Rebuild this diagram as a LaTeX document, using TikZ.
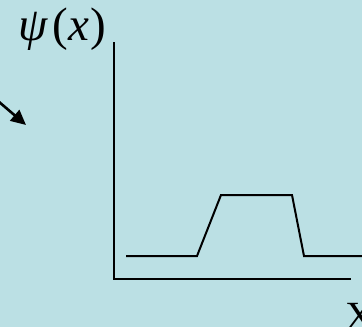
\documentclass[tikz,border=0pt]{standalone}
\usepackage{fontspec}
\setmainfont{Liberation Serif}
\usetikzlibrary{arrows.meta, positioning, calc}
\definecolor{slidebg}{RGB}{187,224,228}

\begin{document}
\begin{tikzpicture}[x=1pt, y=-1pt,
			axis/.style={draw=black, line width=1.4pt},
			wave/.style={draw=black, line width=2pt, line join=miter},
			pointer/.style={-{Triangle[length=15pt, width=14pt]}, line width=2.6pt},
			label/.style={inner sep=0pt, font=\fontsize{47}{47}\selectfont}
			]
			
			% --- FONDO ---
			\fill[slidebg] (0,0) rectangle (362,327);
			\useasboundingbox (0,0) rectangle (362,327);
			
			% --- EJES ---
			\coordinate (top) at (114,42);
			\coordinate (origin) at (114,279);
			\coordinate (right) at (351,279);
			\draw[axis] (top) -- (origin) -- (right);
			
			% Etiquetas
			\node[label, anchor=base west] (psi) at (18,40) {{\itshape ψ}\kern5pt({\itshape x}\kern2pt)};
			\node[label, anchor=base west, font=\fontsize{40}{40}\selectfont] (xlab) at (345,329) {X};
			
			% --- FUNCION DE ONDA ---
			\coordinate (w-1) at (126,256);
			\coordinate (w-2) at (197,256);
			\coordinate (w-3) at (221,195);
			\coordinate (w-4) at (292,195);
			\coordinate (w-5) at (304,256);
			\coordinate (w-6) at (363,256);
			\draw[wave] (w-1) -- (w-2) -- (w-3) -- (w-4) -- (w-5) -- (w-6);
			
			% Flecha
			\coordinate (tail) at (-2,101);
			\coordinate (tip) at (26,125);
			\draw[pointer] (tail) -- (tip);
			
		\end{tikzpicture}
\end{document}
